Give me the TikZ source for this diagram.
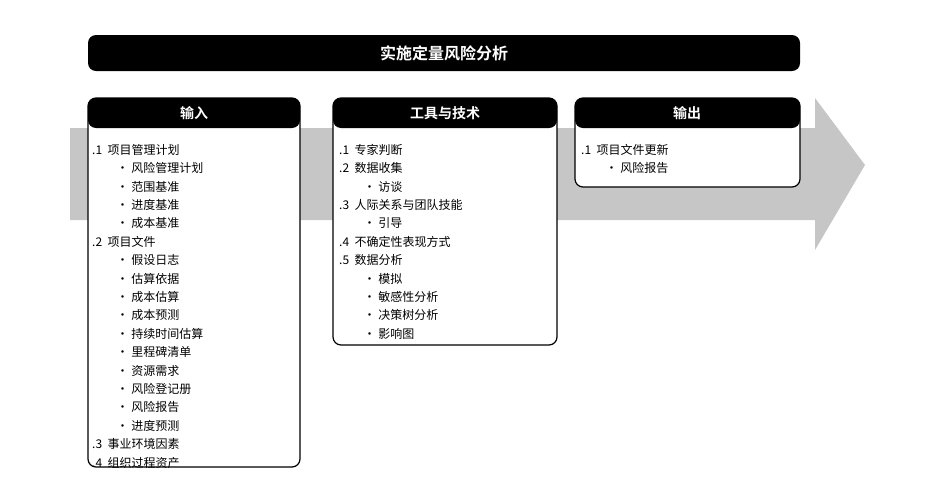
\documentclass[tikz,border=0pt]{standalone}
\usepackage{fontspec}
\setmainfont{Noto Sans CJK SC}
\newfontfamily\boldcjk{Noto Sans CJK SC Bold}
\begin{document}
\begin{tikzpicture}[x=1pt,y=-1pt,
  hdr/.style={fill=black,rounded corners=8pt},
  box/.style={draw=black,line width=1.2pt,fill=white,rounded corners=8pt},
  ht/.style={text=white,font=\boldcjk\fontsize{14}{16}\selectfont},
  lst/.style={anchor=north west,align=left,font=\fontsize{12}{18.4}\selectfont,inner sep=0pt}]
\useasboundingbox (0,0) rectangle (938,488);
\fill[gray!45] (70,128) -- (815,128) -- (815,98) -- (865,165) -- (815,250) -- (815,220) -- (70,220) -- cycle;
\node[hdr,minimum width=712pt,minimum height=36pt] (title) at (444,53) {};
\node[ht,font=\boldcjk\fontsize{16}{18}\selectfont] (tt) at (title) {实施定量风险分析};
% input
\draw[box] (88,98) rectangle (300,467);
\fill[black,rounded corners=8pt] (88,128) -- (88,98) -- (300,98) -- (300,128) -- cycle;
\node[ht] (h1) at (194,113) {输入};
\node[lst] (l1) at (90,144) {\,.1\ \ 项目管理计划\\
\hspace{2.2em}• 风险管理计划\\ \hspace{2.2em}• 范围基准\\ \hspace{2.2em}• 进度基准\\ \hspace{2.2em}• 成本基准\\
\,.2\ \ 项目文件\\
\hspace{2.2em}• 假设日志\\ \hspace{2.2em}• 估算依据\\ \hspace{2.2em}• 成本估算\\ \hspace{2.2em}• 成本预测\\
\hspace{2.2em}• 持续时间估算\\ \hspace{2.2em}• 里程碑清单\\ \hspace{2.2em}• 资源需求\\ \hspace{2.2em}• 风险登记册\\
\hspace{2.2em}• 风险报告\\ \hspace{2.2em}• 进度预测\\
\,.3\ \ 事业环境因素\\ \,.4\ \ 组织过程资产};
% tools
\draw[box] (333,98) rectangle (557,345);
\fill[black,rounded corners=8pt] (333,128) -- (333,98) -- (557,98) -- (557,128) -- cycle;
\node[ht] (h2) at (445,113) {工具与技术};
\node[lst] (l2) at (337,144) {\,.1\ \ 专家判断\\ \,.2\ \ 数据收集\\ \hspace{2.2em}• 访谈\\
\,.3\ \ 人际关系与团队技能\\ \hspace{2.2em}• 引导\\ \,.4\ \ 不确定性表现方式\\ \,.5\ \ 数据分析\\
\hspace{2.2em}• 模拟\\ \hspace{2.2em}• 敏感性分析\\ \hspace{2.2em}• 决策树分析\\ \hspace{2.2em}• 影响图};
% output
\draw[box] (575,98) rectangle (800,187);
\fill[black,rounded corners=8pt] (575,128) -- (575,98) -- (800,98) -- (800,128) -- cycle;
\node[ht] (h3) at (687,113) {输出};
\node[lst] (l3) at (579,144) {\,.1\ \ 项目文件更新\\ \hspace{2.2em}• 风险报告};
\end{tikzpicture}
\end{document}
